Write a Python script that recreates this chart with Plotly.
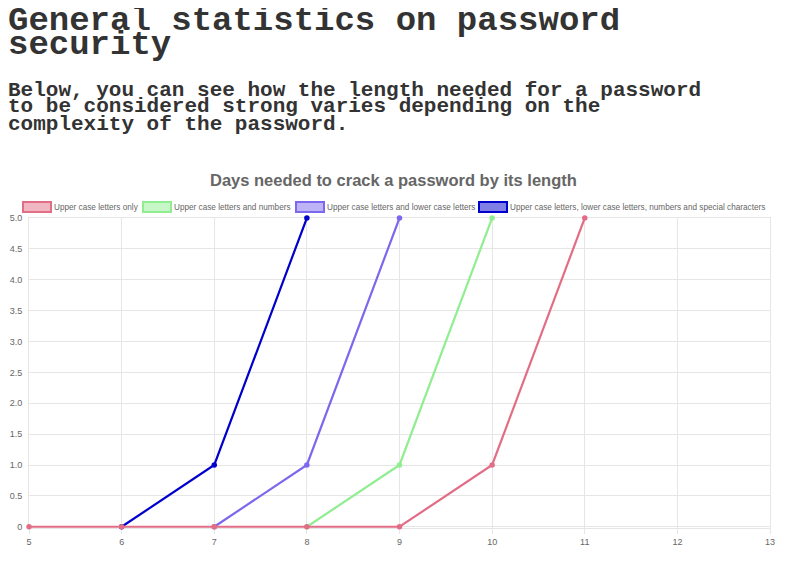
import plotly.graph_objects as go

# ---- data ----
lengths = [5, 6, 7, 8, 9, 10, 11, 12, 13]
upper_only = [0, 0, 0, 0, 0, 1, 5, None, None]
upper_numbers = [None, None, None, 0, 1, 5, None, None, None]
upper_lower = [None, None, 0, 1, 5, None, None, None, None]
all_chars = [None, 0, 1, 5, None, None, None, None, None]

series_names = [
    "Upper case letters only",
    "Upper case letters and numbers",
    "Upper case letters and lower case letters",
    "Upper case letters, lower case letters, numbers and special characters",
]
series_values = [upper_only, upper_numbers, upper_lower, all_chars]
line_colors = ["rgb(226,110,134)", "rgb(144,238,144)", "rgb(123,104,238)", "rgb(0,0,205)"]
fill_colors = ["rgba(226,110,134,0.5)", "rgba(144,238,144,0.5)", "rgba(123,104,238,0.5)", "rgba(0,0,205,0.5)"]

y_tickvals = [0, 0.5, 1, 1.5, 2, 2.5, 3, 3.5, 4, 4.5, 5]
y_ticktext = ["0", "0.5", "1.0", "1.5", "2.0", "2.5", "3.0", "3.5", "4.0", "4.5", "5.0"]

title_text = "Days needed to crack a password by its length"
header_lines = ["General statistics on password", "security"]
body_lines = [
    "Below, you can see how the length needed for a password",
    "to be considered strong varies depending on the",
    "complexity of the password.",
]

# ---- layout geometry (page pixels; the page adds an 8px body margin) ----
OFF = 8
W, H = 800 - OFF, 573 - OFF
L, R, T, B = 29 - OFF, 770 - OFF, 218 - OFF, 528 - OFF
Y_RANGE = [-0.02, 5]


def px(xp):
    return (xp - OFF - L) / (R - L)


def py(yp):
    return (B - (yp - OFF)) / (B - T)


fig = go.Figure()

# draw last dataset first so the first one is on top (Chart.js order)
for i in reversed(range(len(series_names))):
    fig.add_trace(go.Scatter(
        x=lengths, y=series_values[i], name=series_names[i],
        mode="lines+markers",
        line=dict(color=line_colors[i], width=2.2),
        marker=dict(color=line_colors[i], size=5.5, line=dict(width=0)),
        cliponaxis=False, showlegend=False, connectgaps=False,
    ))

annotations = []
shapes = []

# header
header_font = dict(family="Liberation Mono", size=34, color="#333333")
for line, yc in zip(header_lines, [21, 45]):
    annotations.append(dict(text="<b>%s</b>" % line, x=px(6), y=py(yc), xref="paper", yref="paper",
                            xanchor="left", yanchor="middle", showarrow=False, font=header_font))
body_font = dict(family="Liberation Mono", size=21, color="#333333")
for line, yc in zip(body_lines, [90, 107, 124]):
    annotations.append(dict(text="<b>%s</b>" % line, x=px(6), y=py(yc), xref="paper", yref="paper",
                            xanchor="left", yanchor="middle", showarrow=False, font=body_font))

# chart title
annotations.append(dict(text="<b>%s</b>" % title_text, x=px(393), y=py(180), xref="paper", yref="paper",
                        xanchor="center", yanchor="middle", showarrow=False,
                        font=dict(family="Liberation Sans", size=16.5, color="#666666")))

# legend (Chart.js style boxes)
box_x = [23, 143, 296, 479]
for i, name in enumerate(series_names):
    x0 = box_x[i]
    shapes.append(dict(type="rect", xref="paper", yref="paper",
                       x0=px(x0), x1=px(x0 + 28), y0=py(212), y1=py(202),
                       fillcolor=fill_colors[i], line=dict(color=line_colors[i], width=2)))
    annotations.append(dict(text=name, x=px(x0 + 29), y=py(207), xref="paper", yref="paper",
                            xanchor="left", yanchor="middle", showarrow=False,
                            font=dict(family="Liberation Sans", size=8.2, color="#666666")))

fig.update_layout(
    width=W, height=H,
    margin=dict(l=L, r=W - R, t=T, b=H - B, pad=0, autoexpand=False),
    paper_bgcolor="white", plot_bgcolor="white",
    showlegend=False,
    annotations=annotations, shapes=shapes,
    font=dict(family="Liberation Sans", color="#666666"),
)
fig.update_xaxes(range=[5, 13], tickvals=lengths, ticktext=[str(v) for v in lengths],
                 showgrid=True, gridcolor="#e6e6e6", gridwidth=1, zeroline=False,
                 showline=True, linecolor="#e6e6e6", mirror=True, automargin=False,
                 layer="below traces",
                 ticks="outside", ticklen=5, tickcolor="#e6e6e6",
                 tickfont=dict(size=9, color="#666666", family="Liberation Sans"))
fig.update_yaxes(range=Y_RANGE, tickvals=y_tickvals, ticktext=y_ticktext,
                 showgrid=True, gridcolor="#e6e6e6", gridwidth=1, zeroline=False,
                 showline=True, linecolor="#e6e6e6", mirror=True, automargin=False,
                 layer="below traces",
                 ticks="", ticklabelstandoff=4,
                 tickfont=dict(size=9, color="#666666", family="Liberation Sans"))

fig.write_html("out.html")
